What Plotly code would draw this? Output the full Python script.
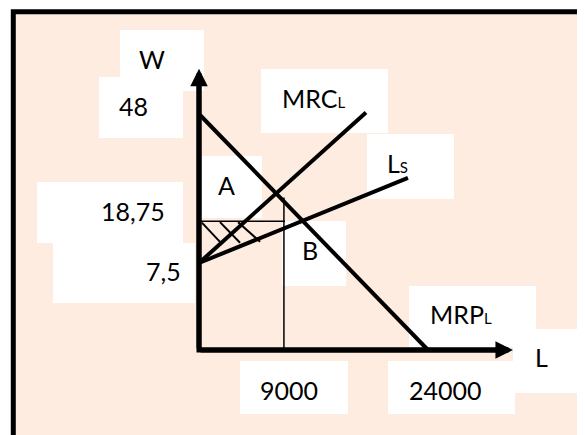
import plotly.graph_objects as go

PAGE_MARGIN = 8                      # default body margin of the html page
FIG_W, FIG_H = 585 - PAGE_MARGIN, 435 - PAGE_MARGIN

# ---------------- data (x: labour L, y: wage W, as drawn in the picture) -------------
mrp_L = [0, 24000]
mrp_W = [48, 0]
mrc_L = [0, 17500]
mrc_W = [17.7, 48.3]
ls_L = [0, 21900]
ls_W = [17.7, 35.0]
wage_line_L = [0, 9000]
wage_line_W = [26.2, 26.2]
emp_line_L = [8900, 8900]
emp_line_W = [0, 31.0]
hatch_L = [[300, 2200], [2200, 4300], [4100, 6400]]
hatch_W = [[25.9, 22.0], [26.0, 21.8], [26.0, 22.0]]
axis_tip_L = 32900
axis_tip_W = 57.2

SUB = '<span style="font-size:15px">%s</span>'
y_tick_text = ["48", "18,75", "7,5"]
x_tick_text = ["9000", "24000"]
axis_titles = ["W", "L"]
curve_names = ["MRC" + SUB % "L", "L" + SUB % "S", "MRP" + SUB % "L"]
area_names = ["A", "B"]

# ---------------- layout helpers (page-pixel positions of text boxes) -----------------
ORIGIN_X, ORIGIN_Y = 199 - PAGE_MARGIN, 350 - PAGE_MARGIN
PX_PER_L = 229 / 24000
PX_PER_W = 236 / 48
x_range = [-ORIGIN_X / PX_PER_L, (FIG_W - ORIGIN_X) / PX_PER_L]
y_range = [-(FIG_H - ORIGIN_Y) / PX_PER_W, ORIGIN_Y / PX_PER_W]

def px(x):
    return (x - PAGE_MARGIN) / FIG_W

def py(y):
    return 1 - (y - PAGE_MARGIN) / FIG_H

BG = "#FDECDF"

label_texts = [axis_titles[0], y_tick_text[0], y_tick_text[1], y_tick_text[2], area_names[0],
               curve_names[0], curve_names[1], area_names[1], curve_names[2], axis_titles[1],
               x_tick_text[1], x_tick_text[0]]
label_pos = [(152, 59), (133, 106), (133, 211), (163, 271), (226, 185),
             (313, 98), (397, 163), (310, 250), (461, 314), (541, 357),
             (445, 390), (289, 390)]
boxes = [(120, 30, 204, 91), (99, 77, 183, 138), (37, 182, 183, 243), (53, 243, 195, 303),
         (202, 156, 262, 218), (261, 69, 388, 133), (367, 134, 454, 199), (282, 221, 346, 286),
         (409, 286, 536, 347), (513, 329, 578, 393), (388, 361, 515, 414), (240, 361, 348, 414)]

fig = go.Figure()

def line(xs, ys, w):
    fig.add_trace(go.Scatter(x=xs, y=ys, mode="lines", line=dict(color="black", width=w),
                             hoverinfo="skip", showlegend=False))

line(mrp_L, mrp_W, 4)
line(mrc_L, mrc_W, 4)
line(ls_L, ls_W, 4)
line(wage_line_L, wage_line_W, 1.5)
line(emp_line_L, emp_line_W, 1.5)
for hx, hy in zip(hatch_L, hatch_W):
    line(hx, hy, 2)
line([0, 0, axis_tip_L - 500], [axis_tip_W - 2, 0, 0], 5)

shapes = [dict(type="rect", xref="paper", yref="paper", x0=px(13.3), x1=1.05,
               y0=-0.05, y1=py(11.7), fillcolor=BG, line=dict(color="black", width=5),
               layer="below")]
for (x0, y0, x1, y1) in boxes:
    shapes.append(dict(type="rect", xref="paper", yref="paper", x0=px(x0), x1=px(x1),
                       y0=py(y1), y1=py(y0), fillcolor="white", line=dict(width=0),
                       layer="below"))

annotations = []
for t, (x, y) in zip(label_texts, label_pos):
    annotations.append(dict(text=t, x=px(x), y=py(y), xref="paper", yref="paper",
                            showarrow=False, xanchor="center", yanchor="middle",
                            font=dict(family="Lato", size=25, color="black")))
annotations.append(dict(text="", x=0, y=axis_tip_W, ax=0, ay=0, xref="x", yref="y",
                        axref="x", ayref="y", showarrow=True, arrowhead=2, arrowsize=0.7,
                        arrowwidth=5, arrowcolor="black", standoff=0))
annotations.append(dict(text="", x=axis_tip_L, y=0, ax=0, ay=0, xref="x", yref="y",
                        axref="x", ayref="y", showarrow=True, arrowhead=2, arrowsize=0.7,
                        arrowwidth=5, arrowcolor="black", standoff=0))

fig.update_layout(
    width=FIG_W, height=FIG_H, autosize=False,
    margin=dict(l=0, r=0, t=0, b=0),
    paper_bgcolor="white", plot_bgcolor="rgba(0,0,0,0)",
    xaxis=dict(range=x_range, visible=False, fixedrange=True),
    yaxis=dict(range=y_range, visible=False, fixedrange=True),
    shapes=shapes, annotations=annotations, showlegend=False,
)

fig.write_html("out.html")
